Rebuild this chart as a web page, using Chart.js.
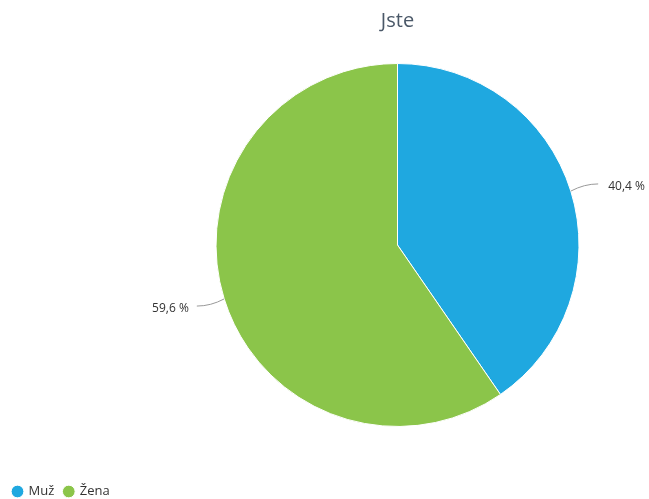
<!DOCTYPE html>
<html>
<head>
<meta charset="utf-8">
<script src="https://cdn.jsdelivr.net/npm/chart.js@4"></script>
<style>
  html, body { margin: 0; padding: 0; background: #fff; }
  #wrap { width: 649px; height: 499px; }
</style>
</head>
<body>
<div id="wrap"><canvas id="chart" width="649" height="499"></canvas></div>
<script>
const labels = ['Muž', 'Žena'];
const values = [40.4, 59.6];
const colors = ['#1fa8e0', '#8bc54a'];

// labels outside the slices with a short connector line
const outsideLabels = {
    id: 'outsideLabels',
    afterDatasetsDraw(chart) {
        const ctx = chart.ctx;
        const meta = chart.getDatasetMeta(0);
        ctx.save();
        ctx.font = '12px "Open Sans", "Noto Sans", sans-serif';
        ctx.fillStyle = '#333';
        ctx.strokeStyle = '#999';
        ctx.lineWidth = 1;
        meta.data.forEach((arc, i) => {
            const mid = (arc.startAngle + arc.endAngle) / 2;
            const r = arc.outerRadius;
            const cos = Math.cos(mid), sin = Math.sin(mid);
            const x0 = arc.x + cos * r, y0 = arc.y + sin * r;
            const x1 = arc.x + cos * (r + 14), y1 = arc.y + sin * (r + 14) - (sin < 0 ? 3 : -3);
            const right = cos >= 0;
            const x2 = x1 + (right ? 14 : -14);
            ctx.beginPath();
            ctx.moveTo(x0, y0);
            ctx.quadraticCurveTo(x1, y1, x2, y1);
            ctx.stroke();
            const txt = values[i].toFixed(1).replace('.', ',') + ' %';
            ctx.textBaseline = 'middle';
            ctx.textAlign = right ? 'left' : 'right';
            ctx.fillText(txt, x2 + (right ? 10 : -8), y1 + 3);
        });
        ctx.restore();
    }
};

// move the legend to the bottom-left corner of the canvas
const legendCorner = {
    id: 'legendCorner',
    afterLayout(chart) {
        const lg = chart.legend;
        const h = lg.height;
        lg.left = 3;
        lg.right = chart.width;
        lg.width = chart.width - 3;
        lg.top = chart.height - h + 9;
        lg.bottom = lg.top + h;
    }
};

new Chart(document.getElementById('chart').getContext('2d'), {
    type: 'pie',
    data: {
        labels: labels,
        datasets: [{
            data: values,
            backgroundColor: colors,
            borderColor: '#fff',
            borderWidth: 1
        }]
    },
    options: {
        responsive: false,
        animation: false,
        layout: { padding: { left: 146, right: 0, top: 9, bottom: 39 } },
        plugins: {
            title: {
                display: true,
                text: 'Jste',
                color: '#4a5868',
                font: { size: 20, family: '"Open Sans", "Noto Sans", sans-serif', weight: 'normal' },
                padding: { top: 0, bottom: 30 }
            },
            legend: {
                position: 'bottom',
                align: 'start',
                labels: {
                    usePointStyle: true,
                    pointStyle: 'circle',
                    boxWidth: 9,
                    boxHeight: 9,
                    padding: 10,
                    color: '#333',
                    font: { size: 13, family: '"Open Sans", "Noto Sans", sans-serif' }
                }
            },
            tooltip: { enabled: false }
        }
    },
    plugins: [outsideLabels, legendCorner]
});
</script>
</body>
</html>
